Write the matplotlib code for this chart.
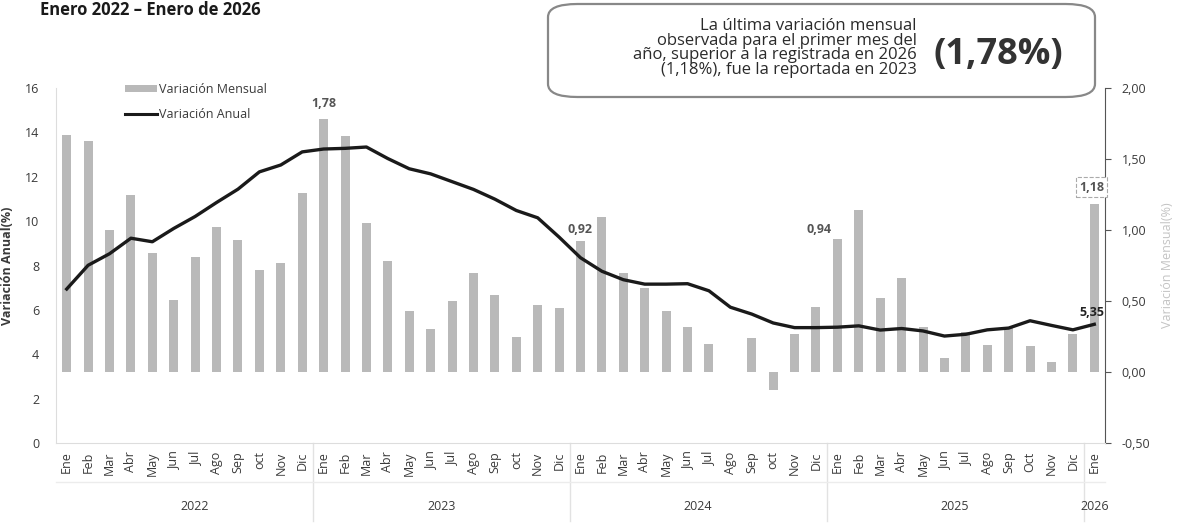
import matplotlib
matplotlib.use("Agg")
import matplotlib.pyplot as plt
import matplotlib.transforms as mtransforms
from matplotlib.patches import FancyBboxPatch, Patch
from matplotlib.lines import Line2D

plt.rcParams['font.family'] = ['Open Sans', 'DejaVu Sans']

# Meses y años
meses = ['Ene', 'Feb', 'Mar', 'Abr', 'May', 'Jun', 'Jul', 'Ago', 'Sep', 'oct', 'Nov', 'Dic',
         'Ene', 'Feb', 'Mar', 'Abr', 'May', 'Jun', 'Jul', 'Ago', 'Sep', 'oct', 'Nov', 'Dic',
         'Ene', 'Feb', 'Mar', 'Abr', 'May', 'Jun', 'Jul', 'Ago', 'Sep', 'oct', 'Nov', 'Dic',
         'Ene', 'Feb', 'Mar', 'Abr', 'May', 'Jun', 'Jul', 'Ago', 'Sep', 'Oct', 'Nov', 'Dic',
         'Ene']
anios = ['2022', '2023', '2024', '2025', '2026']

# Variación mensual (%) - eje derecho
var_mensual = [1.67, 1.63, 1.00, 1.25, 0.84, 0.51, 0.81, 1.02, 0.93, 0.72, 0.77, 1.26,
               1.78, 1.66, 1.05, 0.78, 0.43, 0.30, 0.50, 0.70, 0.54, 0.25, 0.47, 0.45,
               0.92, 1.09, 0.70, 0.59, 0.43, 0.32, 0.20, 0.00, 0.24, -0.13, 0.27, 0.46,
               0.94, 1.14, 0.52, 0.66, 0.32, 0.10, 0.28, 0.19, 0.32, 0.18, 0.07, 0.27,
               1.18]

# Variación anual (%) - eje izquierdo
var_anual = [6.94, 8.01, 8.53, 9.23, 9.07, 9.67, 10.21, 10.84, 11.44, 12.22, 12.53, 13.12,
             13.25, 13.28, 13.34, 12.82, 12.36, 12.13, 11.78, 11.43, 10.99, 10.48, 10.15, 9.28,
             8.35, 7.74, 7.36, 7.16, 7.16, 7.18, 6.86, 6.12, 5.81, 5.41, 5.20, 5.20,
             5.22, 5.28, 5.09, 5.16, 5.05, 4.82, 4.90, 5.10, 5.18, 5.51, 5.30, 5.10,
             5.35]

x = list(range(len(meses)))
gris_txt = '#3a3a3a'

fig = plt.figure(figsize=(11.77, 5.23), dpi=100)
ax = fig.add_axes([56 / 1177, 1 - 443 / 523, (1105 - 56) / 1177, (443 - 88) / 523])
ax2 = ax.twinx()

# Barras en el eje derecho, línea por encima
ax2.bar(x, var_mensual, width=0.42, color='#b9b9b9', zorder=1)
ax.set_zorder(ax2.get_zorder() + 1)
ax.patch.set_visible(False)
ax.plot(x, var_anual, color='#1a1a1a', linewidth=2.4, zorder=3)

ax.set_xlim(-0.5, 48.5)
ax.set_ylim(0, 16)
ax2.set_ylim(-0.5, 2.0)

ax.set_yticks(range(0, 17, 2))
ax2.set_yticks([-0.5, 0.0, 0.5, 1.0, 1.5, 2.0])
ax2.set_yticklabels([f'{v:.2f}'.replace('.', ',') for v in [-0.5, 0.0, 0.5, 1.0, 1.5, 2.0]])

ax.set_xticks(x)
ax.set_xticklabels(meses, rotation=90, fontsize=9, color=gris_txt)
ax.tick_params(axis='x', length=0, pad=6)
ax.tick_params(axis='y', length=0, labelsize=9, colors=gris_txt, pad=12)
ax2.tick_params(axis='y', length=4, labelsize=9, colors=gris_txt, pad=8, color='#555555')

for a in (ax, ax2):
    a.spines['top'].set_visible(False)
ax.spines['left'].set_color('#dddddd')
ax.spines['bottom'].set_color('#dddddd')
ax.spines['right'].set_visible(False)
ax2.spines['left'].set_visible(False)
ax2.spines['bottom'].set_visible(False)
ax2.spines['right'].set_color('#555555')

ax.set_ylabel('Variación Anual(%)', fontsize=9, fontweight='bold', color=gris_txt, labelpad=8)
ax2.set_ylabel('Variación Mensual(%)', fontsize=9, color='#c4c4c4', labelpad=8)

# Años bajo los meses y separadores
trans = mtransforms.blended_transform_factory(ax.transData, ax.transAxes)
centros = [6, 17.5, 29.5, 41.5, 48]
for anio, c in zip(anios, centros):
    ax.text(c, -0.18, anio, transform=trans, ha='center', va='center',
            fontsize=9, color=gris_txt)
for sep in [11.5, 23.5, 35.5, 47.5]:
    ax.plot([sep, sep], [0, -0.22], transform=trans, color='#e2e2e2',
            linewidth=1, clip_on=False)
ax.plot([-0.5, 48.5], [-0.11, -0.11], transform=trans, color='#ececec',
        linewidth=1, clip_on=False)

# Leyenda
handles = [Patch(facecolor='#b9b9b9', edgecolor='none'),
           Line2D([0], [0], color='#1a1a1a', linewidth=2.2)]
ax.legend(handles, ['Variación Mensual', 'Variación Anual'], loc='upper left',
          bbox_to_anchor=(0.055, 1.045), frameon=False, fontsize=9,
          handlelength=2.6, handleheight=0.5, handletextpad=0.1, labelspacing=0.9,
          labelcolor=gris_txt)

# Etiquetas de datos
ax2.annotate('1,78', (12, 1.78), xytext=(0, 9), textcoords='offset points',
             ha='center', fontsize=9, fontweight='bold', color='#555555')
ax2.annotate('0,92', (24, 0.92), xytext=(0, 6), textcoords='offset points',
             ha='center', fontsize=9, fontweight='bold', color='#555555')
ax2.annotate('0,94', (36, 0.94), xytext=(-4, 4), textcoords='offset points',
             ha='right', fontsize=9, fontweight='bold', color='#555555')
ax2.annotate('1,18', (48, 1.18), xytext=(-2, 10), textcoords='offset points',
             ha='center', fontsize=9, fontweight='bold', color='#555555',
             bbox=dict(boxstyle='square,pad=0.25', facecolor='white',
                       edgecolor='#aaaaaa', linestyle='--', linewidth=0.8))
ax.annotate('5,35', (48, 5.35), xytext=(-2, 6), textcoords='offset points',
            ha='center', fontsize=9, fontweight='bold', color='#222222')

# Título
fig.text(40 / 1177, 1 - 10 / 523, 'Enero 2022 – Enero de 2026', fontsize=12,
         fontweight='bold', color='#1a1a1a', va='center', ha='left')

# Recuadro con el mensaje
caja = FancyBboxPatch((548 / 1177, 1 - 97 / 523), (1095 - 548) / 1177, (97 - 4) / 523,
                      boxstyle='round,pad=0,rounding_size=0.025', transform=fig.transFigure,
                      facecolor='white', edgecolor='#888888', linewidth=1.6, zorder=5)
fig.patches.append(caja)
fig.text(917 / 1177, 1 - 48 / 523,
         'La última variación mensual\nobservada para el primer mes del\n'
         'año, superior a la registrada en 2026\n(1,18%), fue la reportada en 2023',
         ha='right', va='center', fontsize=12, color='#2a2a2a', linespacing=0.9, zorder=6)
fig.text(998 / 1177, 1 - 55 / 523, '(1,78%)', ha='center', va='center',
         fontsize=26, fontweight='bold', color='#333333', zorder=6)

fig.savefig('out.png', dpi=100)
